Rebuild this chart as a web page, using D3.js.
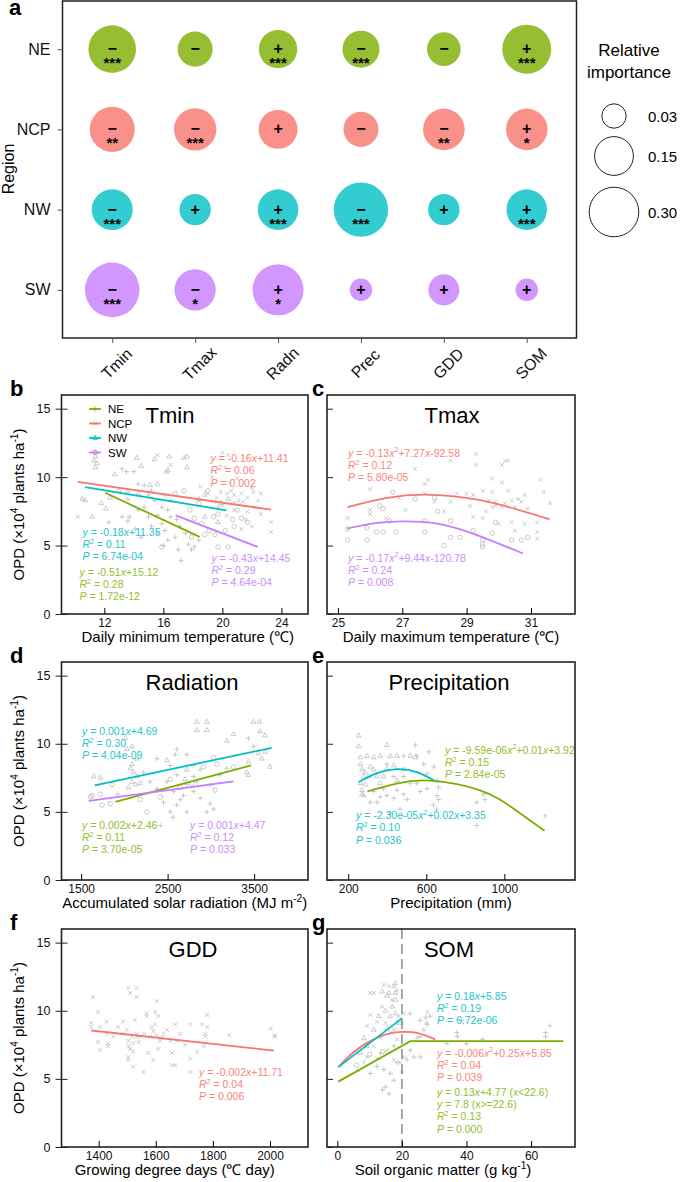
<!DOCTYPE html>
<html>
<head>
<meta charset="utf-8">
<script src="https://cdn.jsdelivr.net/npm/d3@7"></script>
<style>
body { margin: 0; background: #fff; }
svg { display: block; font-family: "Liberation Sans", Arial, Helvetica, sans-serif; }
</style>
</head>
<body>
<div id="chart"></div>
<script>
// ---- panel a: relative importance ----
const regions = ['NE', 'NCP', 'NW', 'SW'];
const drivers = ['Tmin', 'Tmax', 'Radn', 'Prec', 'GDD', 'SOM'];
const impNE = [0.268, 0.110, 0.145, 0.130, 0.096, 0.290];
const impNCP = [0.230, 0.194, 0.152, 0.110, 0.184, 0.184];
const impNW = [0.176, 0.077, 0.171, 0.383, 0.077, 0.171];
const impSW = [0.387, 0.181, 0.323, 0.021, 0.074, 0.021];
const signNE = ['-', '-', '+', '-', '-', '+'];
const signNCP = ['-', '-', '+', '-', '-', '+'];
const signNW = ['-', '+', '+', '-', '+', '+'];
const signSW = ['-', '-', '+', '+', '+', '+'];
const starsNE = ['***', '', '***', '***', '', '***'];
const starsNCP = ['**', '***', '', '', '**', '*'];
const starsNW = ['***', '', '***', '***', '', '***'];
const starsSW = ['***', '*', '*', '', '', ''];
const legendValues = [0.03, 0.15, 0.30];

// ---- scatter points (x, OPD) ----
const tminNE = [[13.2,10.6],[13.5,10.4],[14.0,10.4],[13.7,7.1],[13.6,6.8],[14.3,7.6],[14.7,7.8],[15.0,7.1],[15.2,6.4],[15.6,5.9],[15.9,6.6],[16.1,6.1],[16.3,5.4],[16.5,7.1],[15.9,7.8],[15.4,8.3],[16.8,5.6],[17.0,4.7],[17.2,3.9],[17.7,5.1],[17.9,4.7],[18.1,4.9],[18.4,5.4],[17.5,5.9],[17.1,6.4],[16.1,8.7],[14.7,9.4],[14.3,9.5],[15.2,9.0],[13.6,8.4],[16.3,7.6],[16.5,8.3],[15.6,7.2],[16.9,6.9],[13.2,7.1],[14.1,6.2],[14.5,5.6],[12.3,6.7],[16.0,5.0],[15.0,8.7]];
const tminNCP = [[15.6,11.6],[16.5,10.9],[20.0,11.8],[20.4,11.6],[20.2,10.7],[19.3,10.0],[19.9,8.9],[20.3,8.8],[20.6,9.0],[20.8,8.7],[21.1,8.3],[21.3,8.8],[21.7,8.5],[22.1,8.9],[22.4,8.3],[22.6,8.8],[22.2,7.8],[21.7,7.5],[21.6,6.9],[22.0,6.4],[22.6,7.3],[23.3,6.7],[23.3,6.0],[20.8,7.6],[20.3,7.2],[19.7,7.8],[19.4,8.2],[19.0,8.8],[18.5,9.3],[10.2,7.1],[21.3,6.2],[20.8,8.1],[21.4,8.2],[20.5,9.6],[21.0,9.9],[22.0,9.2],[19.6,8.5],[20.0,7.9]];
const tminNW = [[11.4,11.8],[11.4,11.5],[11.3,11.2],[11.5,11.0],[11.4,10.7],[10.7,8.3],[11.8,8.1],[11.2,7.1],[12.1,7.7],[14.3,8.8],[14.5,10.8],[16.4,11.5],[17.6,11.5],[17.6,10.7],[16.2,10.4],[16.3,10.5],[15.1,9.4],[15.6,9.5],[18.8,8.7],[19.9,8.1],[20.4,8.4],[19.7,6.7],[18.8,7.1],[18.4,8.4],[13.6,9.0],[13.0,9.0],[12.7,10.2],[14.2,11.4],[15.4,11.3],[17.4,11.4],[10.5,8.4],[12.4,8.5]];
const tminSW = [[16.8,8.8],[17.4,9.0],[17.8,7.6],[18.1,7.0],[18.6,6.6],[19.1,6.1],[19.5,5.8],[19.7,4.9],[20.4,4.9],[20.2,6.1],[20.7,6.9],[19.7,7.3],[18.8,5.8],[19.4,7.1],[21.3,7.0],[21.7,6.7],[15.9,4.9],[19.0,9.0],[18.4,8.1],[20.8,6.4],[21.0,7.6],[17.9,5.6]];

const tmaxNCP = [[29.3,11.7],[29.3,10.9],[30.1,10.9],[30.2,11.2],[30.3,11.2],[28.5,11.2],[27.4,10.6],[27.8,9.8],[27.7,9.5],[26.0,9.1],[25.3,7.0],[26.0,7.6],[26.0,7.3],[27.7,8.8],[28.0,8.2],[28.3,7.5],[28.5,8.2],[28.7,8.8],[29.0,8.8],[29.2,8.7],[29.5,9.0],[29.1,7.9],[29.2,7.1],[29.5,7.0],[29.7,8.3],[29.8,8.9],[29.9,7.9],[30.1,7.8],[30.0,6.6],[30.3,9.0],[30.4,8.3],[30.5,7.8],[30.7,8.2],[30.8,8.7],[30.9,7.7],[30.4,6.7],[30.5,6.1],[30.8,6.6],[31.2,6.7],[31.2,6.0],[31.2,5.5],[31.4,8.9],[31.6,8.1],[31.3,9.8],[30.1,9.6],[29.8,9.9],[27.1,7.6],[26.9,8.5],[26.5,7.0],[29.6,7.5],[29.8,7.8],[29.9,8.2],[30.6,8.4],[30.2,8.1]];
const tmaxSW = [[25.3,6.2],[25.3,5.4],[25.9,6.3],[25.9,5.4],[26.2,6.0],[26.4,6.0],[26.3,7.9],[26.4,7.7],[26.7,8.9],[26.6,6.8],[26.8,6.0],[27.4,8.4],[27.7,6.8],[27.7,6.0],[28.1,7.5],[28.3,5.0],[28.5,6.8],[28.5,5.6],[28.8,5.6],[29.2,6.1],[29.5,5.1],[29.5,4.9],[29.5,5.4],[29.8,5.9],[29.9,6.7],[30.4,5.4],[30.7,5.4],[30.9,5.6],[28.0,8.5]];

const radNE = [[2376,8.9],[2607,9.6],[2588,9.2],[2530,8.4],[2799,8.4],[2876,8.1],[2722,7.0],[2799,6.5],[2876,6.0],[2992,5.6],[2953,5.0],[3030,5.2],[2607,5.5],[2530,5.0],[2453,5.7],[2722,5.0],[2376,6.7],[2569,6.5],[2684,6.2],[2992,7.0],[3107,7.7],[3184,8.2],[3434,10.4],[3492,9.8],[2415,4.0],[2299,7.2],[2222,7.9],[2722,9.2],[2799,7.6],[2607,7.7],[2492,7.2],[2838,7.2],[2646,5.9],[1920,6.3],[2560,4.6]];
const radNW = [[1646,7.6],[1722,7.5],[2011,10.4],[2030,9.6],[2088,8.5],[2069,8.2],[2107,7.9],[2088,7.2],[2146,7.6],[2127,7.0],[2049,6.8],[2184,7.1],[2703,7.4],[2722,8.1],[2838,11.6],[2953,11.6],[2953,11.0],[2838,11.0],[3184,10.2],[3261,10.7],[3415,7.9],[3434,8.7],[3434,7.7],[3492,11.6],[3561,11.6],[3569,10.9],[3626,10.6],[3588,8.9],[3684,8.3],[3626,9.4],[3549,9.3],[2492,8.8],[2090,9.8],[2140,8.9]];
const radSW = [[1607,6.1],[1722,6.3],[1742,5.5],[1838,5.6],[1857,7.0],[2261,5.0],[2530,7.4],[2646,6.8],[2780,7.1],[2915,8.3],[3030,9.0],[3049,6.6],[3069,8.5],[3261,8.3],[2415,6.1],[2184,5.9],[1626,6.2]];

const precNE = [[398,8.5],[484,9.1],[552,9.1],[544,9.9],[612,9.4],[587,8.5],[638,8.3],[655,7.3],[663,6.8],[655,6.2],[604,6.7],[569,6.5],[552,7.1],[518,7.1],[484,6.3],[450,6.6],[433,6.0],[398,6.2],[364,6.1],[330,6.5],[347,5.7],[501,5.9],[604,7.8],[484,7.6],[433,7.6],[381,6.7],[663,5.9],[858,5.7],[858,4.0],[1209,4.7],[892,6.3],[900,5.9],[636,5.5],[653,5.2],[414,4.9],[465,5.2],[312,5.7]];
const precNW = [[253,10.6],[253,9.8],[262,9.0],[262,8.5],[270,8.1],[279,7.6],[262,7.1],[270,6.6],[279,6.2],[296,9.1],[330,9.0],[364,9.1],[398,9.9],[416,9.1],[450,9.1],[398,8.2],[433,8.4],[313,8.3],[304,7.6],[347,7.6],[381,7.6],[484,8.1],[518,9.1],[544,9.0],[450,7.3],[364,7.1],[287,7.0],[287,7.9],[330,8.1],[270,6.3]];

const gddNCP = [[1380,11.0],[1374,9.1],[1374,8.8],[1397,9.9],[1404,8.8],[1397,7.7],[1404,7.1],[1428,8.3],[1428,9.2],[1433,7.6],[1433,7.4],[1451,8.1],[1468,8.8],[1486,9.2],[1486,8.3],[1498,8.6],[1504,7.8],[1504,7.4],[1504,6.6],[1504,6.4],[1504,11.7],[1510,11.3],[1516,8.1],[1521,7.6],[1521,7.0],[1521,5.9],[1527,9.3],[1533,11.7],[1533,11.0],[1533,8.3],[1533,8.1],[1545,8.1],[1557,5.5],[1568,9.8],[1568,9.6],[1574,6.9],[1580,8.1],[1586,8.8],[1592,8.5],[1592,6.4],[1598,9.9],[1598,9.0],[1603,10.7],[1603,8.2],[1609,7.2],[1615,7.8],[1609,9.6],[1627,8.3],[1639,8.6],[1651,7.8],[1657,6.9],[1657,6.0],[1668,9.0],[1668,6.0],[1674,7.8],[1686,8.3],[1703,7.5],[1721,9.0],[1721,6.5],[1721,5.5],[1745,7.0],[1762,9.0],[1768,7.4],[1774,8.3],[1774,8.1],[1780,9.7],[1780,8.8],[1857,8.2],[2002,8.7],[2016,8.1],[2016,8.2],[1510,7.2],[1540,7.7],[1560,8.3],[1620,8.0]];

const somNE = [[12.3,5.9],[14.4,5.7],[16.4,5.4],[17.5,4.9],[14.9,4.4],[18.5,6.2],[20.6,6.6],[22.6,7.1],[24.7,8.0],[25.7,9.3],[27.3,9.5],[27.8,9.0],[26.8,8.6],[23.7,6.6],[25.7,6.6],[13.4,6.9],[10.2,5.4],[17.5,7.4],[20.1,5.5],[21.6,6.4],[37.0,8.4],[65.9,8.9],[64.5,8.4],[64.5,8.1],[45.0,7.9],[33.9,7.6],[37.2,8.1],[38.5,9.3],[40.0,7.6],[28.7,9.6],[27.7,9.1],[25.7,8.1],[22.5,9.8],[16.0,3.9],[14.0,4.2]];
const somNCP = [[10.2,11.3],[11.3,11.3],[14.4,11.9],[15.9,11.8],[18.5,11.5],[16.9,10.8],[13.9,10.3],[10.2,9.7],[9.2,8.9],[12.3,9.2],[14.9,9.1],[17.5,8.6],[19.0,9.6],[16.4,8.4],[18.5,7.9],[13.3,8.0],[11.3,7.4],[9.2,6.6],[8.2,6.2],[15.4,7.1],[17.5,6.4],[19.5,6.2],[20.6,9.8],[12.3,6.5],[20.0,9.1],[6.5,5.6],[28.0,9.9]];
const somNW = [[13.9,11.4],[15.4,11.1],[17.5,11.8],[18.0,11.3],[18.0,10.8],[17.0,10.3],[14.9,10.0],[12.8,9.6],[16.4,9.6],[18.0,9.8],[18.5,9.1],[15.4,8.7],[11.3,8.6],[9.2,7.4],[7.1,6.9],[8.2,8.0],[18.0,12.0],[16.0,11.3]];
const somSW = [[6.0,6.0],[10.0,6.8],[14.0,7.0]];

// ---- fitted curves (x, OPD) ----
const fitTminNE = [[12.06,8.86],[18.46,5.63]];
const fitTminNCP = [[10.2,9.65],[23.3,7.62]];
const fitTminNW = [[10.7,9.27],[20.27,7.57]];
const fitTminSW = [[16.83,7.21],[22.4,4.9]];
const fitTmaxNCP = [[25.3,7.81],[26.53,8.49],[27.9,8.71],[29.34,8.35],[30.49,7.69],[31.58,6.92]];
const fitTmaxSW = [[25.28,6.24],[26.22,6.65],[27.05,6.77],[28.09,6.6],[29.34,5.75],[30.75,4.42]];
const fitRadNE = [[1896,5.73],[3465,8.41]];
const fitRadNW = [[1657,6.95],[3703,9.7]];
const fitRadSW = [[1588,5.8],[3261,7.24]];
const fitPrecNE = [[298,6.51],[448,7.07],[619,7.29],[875,6.58],[1046,5.24],[1206,3.61]];
const fitPrecNW = [[253,7.19],[347,7.85],[450,8.14],[552,7.92],[655,7.19]];
const fitGddNCP = [[1374,8.55],[2014,7.08]];
const fitSomNE = [[0.3,4.8],[22.6,7.77],[70,7.77]];
const fitSomNCP = [[0.3,5.86],[5,6.95],[10,7.75],[15,8.26],[20,8.45],[25,8.35],[30.3,7.9]];
const fitSomNW = [[0.3,5.86],[20.1,9.46]];

// ---- annotation texts (*italic*, ^superscript^) ----
const annTminNCP = ['*y* = -0.16*x*+11.41', '*R*^2^ = 0.06', '*P* = 0.002'];
const annTminNW = ['*y* = -0.18*x*+11.35', '*R*^2^ = 0.11', '*P* = 6.74e-04'];
const annTminNE = ['*y* = -0.51*x*+15.12', '*R*^2^ = 0.28', '*P* = 1.72e-12'];
const annTminSW = ['*y* = -0.43*x*+14.45', '*R*^2^ = 0.29', '*P* = 4.64e-04'];
const annTmaxNCP = ['*y* = -0.13*x*^2^+7.27*x*-92.58', '*R*^2^ = 0.12', '*P* = 5.80e-05'];
const annTmaxSW = ['*y* = -0.17*x*^2^+9.44*x*-120.78', '*R*^2^ = 0.24', '*P* = 0.008'];
const annRadNW = ['*y* = 0.001*x*+4.69', '*R*^2^ = 0.30', '*P* = 4.04e-09'];
const annRadNE = ['*y* = 0.002*x*+2.46', '*R*^2^ = 0.11', '*P* = 3.70e-05'];
const annRadSW = ['*y* = 0.001*x*+4.47', '*R*^2^ = 0.12', '*P* = 0.033'];
const annPrecNE = ['*y* = -9.59e-06*x*^2^+0.01*x*+3.92', '*R*^2^ = 0.15', '*P* = 2.84e-05'];
const annPrecNW = ['*y* = -2.30e-05*x*^2^+0.02*x*+3.35', '*R*^2^ = 0.10', '*P* = 0.036'];
const annGddNCP = ['*y* = -0.002*x*+11.71', '*R*^2^ = 0.04', '*P* = 0.006'];
const annSomNW = ['*y* = 0.18*x*+5.85', '*R*^2^ = 0.19', '*P* = 6.72e-06'];
const annSomNCP = ['*y* = -0.006*x*^2^+0.25*x*+5.85', '*R*^2^ = 0.04', '*P* = 0.039'];
const annSomNE = ['*y* = 0.13*x*+4.77 (x<22.6)', '*y* = 7.8 (x>=22.6)', '*R*^2^ = 0.13', '*P* = 0.000'];

const colors = { NE: '#7CAE00', NCP: '#F8766D', NW: '#00BFC4', SW: '#C77CFF' };
const textColors = { NE: '#93bd2c', NCP: '#f8857c', NW: '#25c4cb', SW: '#c98ef8' };

const width = 685, height = 1182;
const svg = d3.select('#chart').append('svg')
    .attr('width', width).attr('height', height)
    .attr('viewBox', `0 0 ${width} ${height}`);

// small helper for italic / superscript runs
function richText(textSel, str, fs) {
    const parts = str.split(/(\*[^*]+\*|\^[^^]+\^)/).filter(s => s.length);
    let raised = false;
    const shift = fs * 0.4;
    parts.forEach(p => {
        const t = textSel.append('tspan');
        if (p[0] === '^') {
            t.attr('dy', -shift).attr('font-size', fs * 0.68).text(p.slice(1, -1));
            raised = true;
            return;
        }
        if (raised) { t.attr('dy', shift); raised = false; }
        if (p[0] === '*') t.attr('font-style', 'italic').text(p.slice(1, -1));
        else t.text(p);
    });
}

// ================= panel a =================
const aLeft = 62.5, aRight = 576.5, aTop = 1, aBottom = 338;
const xA = d3.scalePoint().domain(drivers).range([aLeft, aRight]).padding(0.6);
const yA = d3.scalePoint().domain(regions).range([aTop, aBottom]).padding(0.6);
const rScale = d3.scaleSqrt().domain([0.03, 0.30]).range([12.2, 24.8]);

const imp = { NE: impNE, NCP: impNCP, NW: impNW, SW: impSW };
const sgn = { NE: signNE, NCP: signNCP, NW: signNW, SW: signSW };
const stars = { NE: starsNE, NCP: starsNCP, NW: starsNW, SW: starsSW };
const bubbles = regions.flatMap(r => drivers.map((d, i) => ({
    region: r, driver: d, value: imp[r][i], sign: sgn[r][i], stars: stars[r][i]
})));

const gA = svg.append('g');
gA.selectAll('circle.bubble').data(bubbles).join('circle')
    .attr('class', 'bubble')
    .attr('cx', d => xA(d.driver))
    .attr('cy', d => yA(d.region))
    .attr('r', d => rScale(d.value))
    .attr('fill', d => colors[d.region])
    .attr('fill-opacity', 0.8);

gA.selectAll('text.sign').data(bubbles).join('text')
    .attr('class', 'sign')
    .attr('x', d => xA(d.driver))
    .attr('y', d => yA(d.region) + 5)
    .attr('text-anchor', 'middle')
    .attr('font-size', 16).attr('font-weight', 'bold')
    .text(d => d.sign === '-' ? '\u2212' : '+');

gA.selectAll('text.star').data(bubbles.filter(d => d.stars)).join('text')
    .attr('class', 'star')
    .attr('x', d => xA(d.driver))
    .attr('y', d => yA(d.region) + 19)
    .attr('text-anchor', 'middle')
    .attr('font-size', 15).attr('font-weight', 'bold')
    .text(d => d.stars);

gA.append('rect')
    .attr('x', aLeft).attr('y', aTop)
    .attr('width', aRight - aLeft).attr('height', aBottom - aTop)
    .attr('fill', 'none').attr('stroke', '#222').attr('stroke-width', 1.5);

const yAxisA = gA.append('g').attr('transform', `translate(${aLeft},0)`)
    .call(d3.axisLeft(yA).tickSize(5).tickPadding(7));
yAxisA.select('.domain').remove();
yAxisA.selectAll('text').attr('font-size', 16).attr('font-family', null).attr('fill', '#111');
yAxisA.selectAll('line').attr('stroke', '#555');

const xAxisA = gA.append('g').attr('transform', `translate(0,${aBottom})`)
    .call(d3.axisBottom(xA).tickSize(5).tickFormat(''));
xAxisA.select('.domain').remove();
xAxisA.selectAll('line').attr('stroke', '#555');
gA.selectAll('text.xlab').data(drivers).join('text')
    .attr('class', 'xlab')
    .attr('transform', d => `translate(${xA(d) + 4.4},363.5) rotate(-45)`)
    .attr('text-anchor', 'middle').attr('dy', '0.35em')
    .attr('font-size', 16).attr('fill', '#111')
    .text(d => d);

gA.append('text').attr('transform', 'translate(14,169) rotate(-90)')
    .attr('text-anchor', 'middle').attr('font-size', 16).text('Region');
gA.append('text').attr('x', 9).attr('y', 15)
    .attr('font-size', 22).attr('font-weight', 'bold').text('a');

// size legend
gA.append('text').attr('x', 629).attr('y', 56).attr('text-anchor', 'middle')
    .attr('font-size', 17).text('Relative');
gA.append('text').attr('x', 629).attr('y', 78).attr('text-anchor', 'middle')
    .attr('font-size', 17).text('importance');
const legendY = [116, 156, 212];
gA.selectAll('circle.leg').data(legendValues).join('circle')
    .attr('class', 'leg')
    .attr('cx', 614).attr('cy', (d, i) => legendY[i])
    .attr('r', d => rScale(d))
    .attr('fill', 'none').attr('stroke', '#222').attr('stroke-width', 1);
gA.selectAll('text.legv').data(legendValues).join('text')
    .attr('class', 'legv')
    .attr('x', 648).attr('y', (d, i) => legendY[i] + 5.5)
    .attr('font-size', 15)
    .text(d => d.toFixed(2));

// ================= scatter panels =================
const symType = {
    NE: d3.symbolPlus || d3.symbolCross,
    NCP: d3.symbolTimes || d3.symbolCross,
    NW: d3.symbolTriangle2 || d3.symbolTriangle,
    SW: d3.symbolCircle
};
const symSize = { NE: 10, NCP: 12, NW: 16, SW: 16 };
const symbolPath = r => d3.symbol().type(symType[r]).size(symSize[r])();

function drawPanel(cfg) {
    const g = svg.append('g');
    const x = d3.scaleLinear().domain(cfg.xDomain).range([cfg.left, cfg.right]);
    const y = d3.scaleLinear().domain([0, 16]).range([cfg.bottom, cfg.top]);

    cfg.points.forEach(([region, arr]) => {
        g.append('g').selectAll('path').data(arr).join('path')
            .attr('d', symbolPath(region))
            .attr('transform', d => `translate(${x(d[0])},${y(d[1])})`)
            .attr('fill', 'none').attr('stroke', '#bdbdbd').attr('stroke-width', 0.8);
    });

    if (cfg.vline !== undefined) {
        g.append('line')
            .attr('x1', x(cfg.vline)).attr('x2', x(cfg.vline))
            .attr('y1', cfg.top).attr('y2', cfg.bottom)
            .attr('stroke', '#7a7a7a').attr('stroke-width', 1.3)
            .attr('stroke-dasharray', '10,5');
    }

    cfg.fits.forEach(([region, arr]) => {
        const line = d3.line().x(d => x(d[0])).y(d => y(d[1]))
            .curve(arr.length > 3 ? d3.curveNatural : d3.curveLinear);
        g.append('path').datum(arr).attr('d', line)
            .attr('fill', 'none').attr('stroke', colors[region]).attr('stroke-width', 1.8);
    });

    cfg.notes.forEach(n => {
        n.lines.forEach((s, i) => {
            const t = g.append('text')
                .attr('x', cfg.left + n.dx).attr('y', cfg.top + n.dy + i * 12.4)
                .attr('font-size', 10.5).attr('fill', textColors[n.region]);
            richText(t, s, 10.5);
        });
    });

    g.append('text').attr('x', cfg.titleX).attr('y', cfg.top + 28)
        .attr('text-anchor', 'middle').attr('font-size', 22).text(cfg.title);

    g.append('rect')
        .attr('x', cfg.left).attr('y', cfg.top)
        .attr('width', cfg.right - cfg.left).attr('height', cfg.bottom - cfg.top)
        .attr('fill', 'none').attr('stroke', '#222').attr('stroke-width', 1.6);

    const xAxis = g.append('g').attr('transform', `translate(0,${cfg.bottom})`)
        .call(d3.axisBottom(x).tickValues(cfg.xTicks).tickSize(-6).tickPadding(4)
            .tickFormat(d3.format('d')));
    xAxis.select('.domain').remove();
    xAxis.selectAll('text').attr('font-size', 12).attr('font-family', null).attr('fill', '#111');

    const yAxis = g.append('g').attr('transform', `translate(${cfg.left},0)`)
        .call(d3.axisLeft(y).tickValues([0, 5, 10, 15]).tickSize(cfg.labelY ? 6 : 0)
            .tickPadding(5).tickFormat(cfg.labelY ? d3.format('d') : ''));
    yAxis.select('.domain').remove();
    yAxis.selectAll('line').attr('x2', cfg.labelY ? -6 : 0).attr('x1', 6).attr('stroke', '#222');
    yAxis.selectAll('text').attr('font-size', 12.5).attr('font-family', null).attr('fill', '#111');

    const xt = g.append('text').attr('x', (cfg.left + cfg.right) / 2 + (cfg.xTitleShift || 0))
        .attr('y', cfg.bottom + 28).attr('text-anchor', 'middle').attr('font-size', 15);
    richText(xt, cfg.xTitle, 15);

    if (cfg.labelY) {
        const yt = g.append('text')
            .attr('transform', `translate(24,${(cfg.top + cfg.bottom) / 2}) rotate(-90)`)
            .attr('text-anchor', 'middle').attr('font-size', 15);
        richText(yt, 'OPD (\u00d710^4^ plants ha^-1^)', 15);
    }

    g.append('text').attr('x', cfg.letterX).attr('y', cfg.top + 1)
        .attr('font-size', 22).attr('font-weight', 'bold').text(cfg.letter);
    return { g, x, y };
}

const L = { left: 61.5, right: 308, letterX: 10, labelY: true };
const R = { left: 327, right: 575, letterX: 312, labelY: false };

const pb = drawPanel({ ...L, top: 395, bottom: 614, letter: 'b', xDomain: [9.1, 25.8], xTicks: [12, 16, 20, 24],
    title: 'Tmin', titleX: 170, xTitle: 'Daily minimum temperature (\u2103)', xTitleShift: 3,
    points: [['NE', tminNE], ['NCP', tminNCP], ['NW', tminNW], ['SW', tminSW]],
    fits: [['NCP', fitTminNCP], ['NW', fitTminNW], ['NE', fitTminNE], ['SW', fitTminSW]],
    notes: [
        { region: 'NCP', dx: 149, dy: 67, lines: annTminNCP },
        { region: 'NW', dx: 21, dy: 140.5, lines: annTminNW },
        { region: 'NE', dx: 18, dy: 180.5, lines: annTminNE },
        { region: 'SW', dx: 150, dy: 166.5, lines: annTminSW }
    ] });

// legend for regions in panel b
const legB = pb.g.append('g');
regions.forEach((r, i) => {
    const cy = 395 + 14 + i * 14.5;
    legB.append('line').attr('x1', 89).attr('x2', 101).attr('y1', cy).attr('y2', cy)
        .attr('stroke', colors[r]).attr('stroke-width', 1.8);
    legB.append('path').attr('d', symbolPath(r)).attr('transform', `translate(95,${cy})`)
        .attr('fill', 'none').attr('stroke', colors[r]).attr('stroke-width', 0.8);
    legB.append('text').attr('x', 108).attr('y', cy + 4).attr('font-size', 11.5).text(r);
});

drawPanel({ ...R, top: 395, bottom: 614, letter: 'c', xDomain: [24.66, 32.37], xTicks: [25, 27, 29, 31],
    title: 'Tmax', titleX: 452, xTitle: 'Daily maximum temperature (\u2103)',
    points: [['NCP', tmaxNCP], ['SW', tmaxSW]],
    fits: [['NCP', fitTmaxNCP], ['SW', fitTmaxSW]],
    notes: [
        { region: 'NCP', dx: 21, dy: 61.5, lines: annTmaxNCP },
        { region: 'SW', dx: 21, dy: 166.5, lines: annTmaxSW }
    ] });

drawPanel({ ...L, top: 662, bottom: 880, letter: 'd', xDomain: [1273, 4123], xTicks: [1500, 2500, 3500],
    title: 'Radiation', titleX: 192, xTitle: 'Accumulated solar radiation (MJ m^-2^)',
    points: [['NE', radNE], ['NW', radNW], ['SW', radSW]],
    fits: [['NW', fitRadNW], ['NE', fitRadNE], ['SW', fitRadSW]],
    notes: [
        { region: 'NW', dx: 20.5, dy: 72.5, lines: annRadNW },
        { region: 'NE', dx: 20.5, dy: 166.5, lines: annRadNE },
        { region: 'SW', dx: 128.5, dy: 166.5, lines: annRadSW }
    ] });

drawPanel({ ...R, top: 662, bottom: 880, letter: 'e', xDomain: [91, 1362], xTicks: [200, 600, 1000],
    title: 'Precipitation', titleX: 449, xTitle: 'Precipitation (mm)',
    points: [['NE', precNE], ['NW', precNW]],
    fits: [['NW', fitPrecNW], ['NE', fitPrecNE]],
    notes: [
        { region: 'NE', dx: 118, dy: 91.5, lines: annPrecNE },
        { region: 'NW', dx: 29, dy: 157, lines: annPrecNW }
    ] });

drawPanel({ ...L, top: 929, bottom: 1147, letter: 'f', xDomain: [1270, 2133], xTicks: [1400, 1600, 1800, 2000],
    title: 'GDD', titleX: 193, xTitle: 'Growing degree days (\u2103 day)', xTitleShift: -10,
    points: [['NCP', gddNCP]],
    fits: [['NCP', fitGddNCP]],
    notes: [{ region: 'NCP', dx: 137.5, dy: 146.5, lines: annGddNCP }] });

drawPanel({ ...R, top: 929, bottom: 1147, letter: 'g', xDomain: [-3.2, 73.6], xTicks: [0, 20, 40, 60],
    title: 'SOM', titleX: 449, xTitle: 'Soil organic matter (g kg^-1^)', xTitleShift: -8, vline: 20,
    points: [['NE', somNE], ['NCP', somNCP], ['NW', somNW], ['SW', somSW]],
    fits: [['NE', fitSomNE], ['NCP', fitSomNCP], ['NW', fitSomNW]],
    notes: [
        { region: 'NW', dx: 110, dy: 70.5, lines: annSomNW },
        { region: 'NCP', dx: 110, dy: 127.5, lines: annSomNCP },
        { region: 'NE', dx: 110, dy: 166.5, lines: annSomNE }
    ] });
</script>
</body>
</html>
